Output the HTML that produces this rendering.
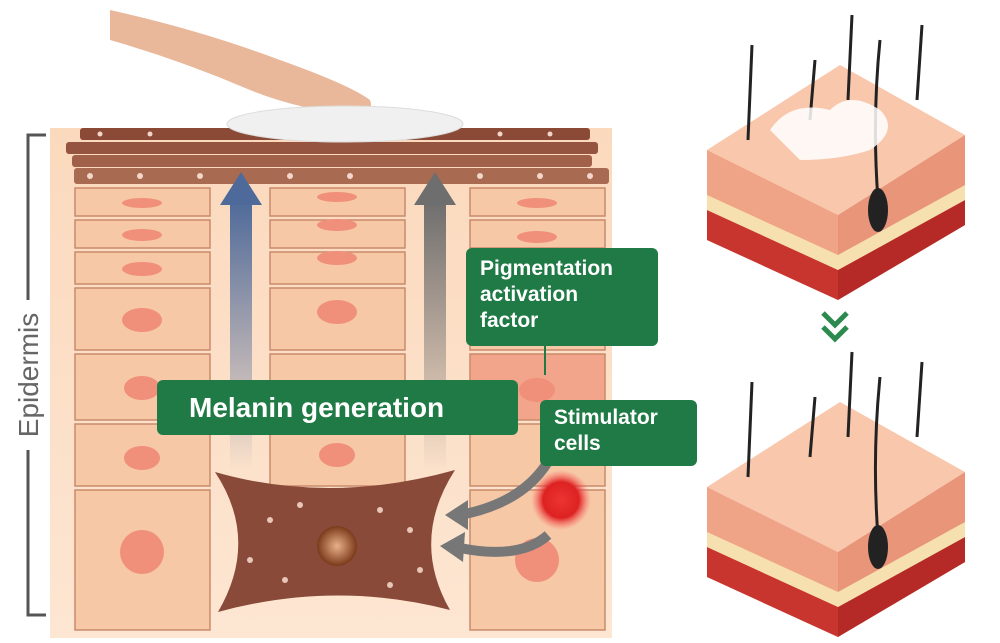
<!DOCTYPE html>
<html><head><meta charset="utf-8"><style>
html,body{margin:0;padding:0;background:#fff;width:1000px;height:643px;overflow:hidden}
.lbl{position:absolute;background:#1f7a45;color:#fff;font-family:"Liberation Sans",sans-serif;font-weight:bold;border-radius:6px}
</style></head><body>
<svg width="1000" height="643" style="position:absolute;left:0;top:0">
<defs>
<linearGradient id="bg" x1="0" x2="0" y1="0" y2="1"><stop offset="0" stop-color="#fbd9bd"/><stop offset="1" stop-color="#fde6d2"/></linearGradient>
<linearGradient id="ba" x1="0" x2="0" y1="0" y2="1"><stop offset="0" stop-color="#4e6a9a"/><stop offset="1" stop-color="#4e6a9a" stop-opacity="0"/></linearGradient>
<linearGradient id="ga" x1="0" x2="0" y1="0" y2="1"><stop offset="0" stop-color="#6e6e6e"/><stop offset="1" stop-color="#6e6e6e" stop-opacity="0"/></linearGradient>
<radialGradient id="red"><stop offset="0" stop-color="#e33"/><stop offset=".6" stop-color="#d22"/><stop offset="1" stop-color="#f66" stop-opacity="0"/></radialGradient>
<radialGradient id="nuc"><stop offset="0" stop-color="#e9b08a"/><stop offset="1" stop-color="#7a3a1a"/></radialGradient>
</defs>
<!-- bracket -->
<path d="M46 135 H28 V615 H46" stroke="#555" stroke-width="3" fill="none"/>
<rect x="14" y="300" width="30" height="150" fill="#fff"/>
<text x="38" y="375" transform="rotate(-90 38 375)" text-anchor="middle" font-family="Liberation Sans,sans-serif" font-size="28" fill="#666">Epidermis</text>
<!-- background -->
<rect x="50" y="128" width="562" height="510" fill="url(#bg)"/>
<!-- top brown layers -->
<rect x="80" y="128" width="510" height="12" rx="3" fill="#8a4a36"/>
<rect x="66" y="142" width="532" height="12" rx="3" fill="#955440"/>
<rect x="72" y="155" width="520" height="12" rx="3" fill="#a0604a"/>
<rect x="74" y="168" width="535" height="16" rx="3" fill="#a96a52"/>
<g fill="#f2d7c8">
<circle cx="100" cy="134" r="2.5"/><circle cx="150" cy="134" r="2.5"/><circle cx="300" cy="134" r="2.5"/><circle cx="500" cy="134" r="2.5"/><circle cx="550" cy="134" r="2.5"/>
<circle cx="90" cy="176" r="3"/><circle cx="140" cy="176" r="3"/><circle cx="200" cy="176" r="3"/><circle cx="290" cy="176" r="3"/><circle cx="350" cy="176" r="3"/><circle cx="480" cy="176" r="3"/><circle cx="540" cy="176" r="3"/><circle cx="590" cy="176" r="3"/>
</g>
<!-- cell columns -->
<g stroke="#c98a6a" stroke-width="1.5" fill="#f6c8a6">
<rect x="75" y="188" width="135" height="28"/><rect x="75" y="220" width="135" height="28"/><rect x="75" y="252" width="135" height="32"/><rect x="75" y="288" width="135" height="62"/><rect x="75" y="354" width="135" height="66"/><rect x="75" y="424" width="135" height="62"/><rect x="75" y="490" width="135" height="140"/>
<rect x="270" y="188" width="135" height="28"/><rect x="270" y="220" width="135" height="28"/><rect x="270" y="252" width="135" height="32"/><rect x="270" y="288" width="135" height="62"/><rect x="270" y="354" width="135" height="66"/><rect x="270" y="424" width="135" height="62"/>
<rect x="470" y="188" width="135" height="28"/><rect x="470" y="220" width="135" height="28"/><rect x="470" y="252" width="135" height="32"/><rect x="470" y="288" width="135" height="62"/><rect x="470" y="354" width="135" height="66" fill="#f2a58a"/><rect x="470" y="424" width="135" height="62"/><rect x="470" y="490" width="135" height="140"/>
</g>
<g fill="#f08f7a">
<ellipse cx="142" cy="203" rx="20" ry="5"/><ellipse cx="142" cy="235" rx="20" ry="6"/><ellipse cx="142" cy="269" rx="20" ry="7"/><ellipse cx="142" cy="320" rx="20" ry="12"/><ellipse cx="142" cy="388" rx="18" ry="12"/><ellipse cx="142" cy="458" rx="18" ry="12"/><circle cx="142" cy="552" r="22"/>
<ellipse cx="337" cy="197" rx="20" ry="5"/><ellipse cx="337" cy="225" rx="20" ry="6"/><ellipse cx="337" cy="258" rx="20" ry="7"/><ellipse cx="337" cy="312" rx="20" ry="12"/><ellipse cx="337" cy="455" rx="18" ry="12"/>
<ellipse cx="537" cy="203" rx="20" ry="5"/><ellipse cx="537" cy="237" rx="20" ry="6"/><ellipse cx="537" cy="390" rx="18" ry="12"/><circle cx="537" cy="560" r="22"/>
</g>
<!-- arrows -->
<rect x="230" y="200" width="22" height="270" fill="url(#ba)"/>
<polygon points="220,205 262,205 241,172" fill="#4e6a9a"/>
<rect x="424" y="200" width="22" height="270" fill="url(#ga)"/>
<polygon points="414,205 456,205 435,172" fill="#6e6e6e"/>
<!-- melanocyte -->
<path d="M215 472 Q330 505 455 470 Q410 540 450 610 Q335 580 218 612 Q260 540 215 472 Z" fill="#8a4a3a"/>
<circle cx="337" cy="546" r="20" fill="url(#nuc)"/>
<g fill="#e8c6b8"><circle cx="270" cy="520" r="3"/><circle cx="300" cy="505" r="3"/><circle cx="380" cy="510" r="3"/><circle cx="410" cy="530" r="3"/><circle cx="285" cy="580" r="3"/><circle cx="390" cy="585" r="3"/><circle cx="250" cy="560" r="3"/><circle cx="420" cy="570" r="3"/></g>
<!-- stimulator -->
<circle cx="561" cy="500" r="30" fill="url(#red)"/>
<!-- curved gray arrows -->
<path d="M560 435 Q540 500 460 515" stroke="#777" stroke-width="10" fill="none"/>
<polygon points="445,515 468,500 468,530" fill="#777"/>
<path d="M548 535 Q520 560 460 548" stroke="#777" stroke-width="10" fill="none"/>
<polygon points="440,546 465,532 463,562" fill="#777"/>
<line x1="545" y1="345" x2="545" y2="375" stroke="#1f7a45" stroke-width="2"/>
<!-- finger & pad -->
<path d="M110 10 Q200 30 280 60 Q350 85 370 100 Q375 112 355 115 Q300 110 250 90 Q180 60 110 40 Z" fill="#e9b89a"/>
<ellipse cx="345" cy="124" rx="118" ry="18" fill="#f0f0f0" stroke="#ddd"/>
<!-- right skin blocks -->
<g id="skin">
<polygon points="707,150 840,65 965,135 838,215" fill="#f9c7ab"/>
<polygon points="707,150 838,215 838,300 707,240" fill="#f0a487"/>
<polygon points="838,215 965,135 965,225 838,300" fill="#e8957a"/>
<polygon points="707,210 838,270 838,300 707,240" fill="#c8352e"/>
<polygon points="838,270 965,200 965,225 838,300" fill="#b52a26"/>
<polygon points="707,195 838,255 838,270 707,210" fill="#f6e0b0"/>
<polygon points="838,255 965,185 965,200 838,270" fill="#f6e0b0"/>
<ellipse cx="878" cy="210" rx="10" ry="22" fill="#222"/>
<g stroke="#222" stroke-width="3" fill="none"><path d="M748 140 L752 45"/><path d="M810 120 L815 60"/><path d="M848 100 L852 15"/><path d="M878 200 Q872 120 880 40"/><path d="M917 100 L922 25"/></g>
</g>
<path d="M770 130 Q790 100 830 110 Q850 90 880 110 Q900 130 870 150 Q840 160 800 160 Z" fill="#fff" opacity=".85"/>
<use href="#skin" transform="translate(0,337)"/>
<!-- chevrons -->
<g fill="none" stroke="#2d8a4e" stroke-width="5"><path d="M823 313 L835 325 L847 313"/><path d="M823 327 L835 339 L847 327"/></g>
</svg>
<div class="lbl" style="left:157px;top:380px;width:361px;height:55px;font-size:28px;line-height:55px;text-indent:32px">Melanin generation</div>
<div class="lbl" style="left:466px;top:248px;width:178px;height:84px;padding:8px 0 6px 14px;font-size:21px;line-height:26px">Pigmentation<br>activation<br>factor</div>
<div class="lbl" style="left:540px;top:400px;width:143px;height:56px;padding:5px 0 5px 14px;font-size:21px;line-height:26px">Stimulator<br>cells</div>
</body></html>
